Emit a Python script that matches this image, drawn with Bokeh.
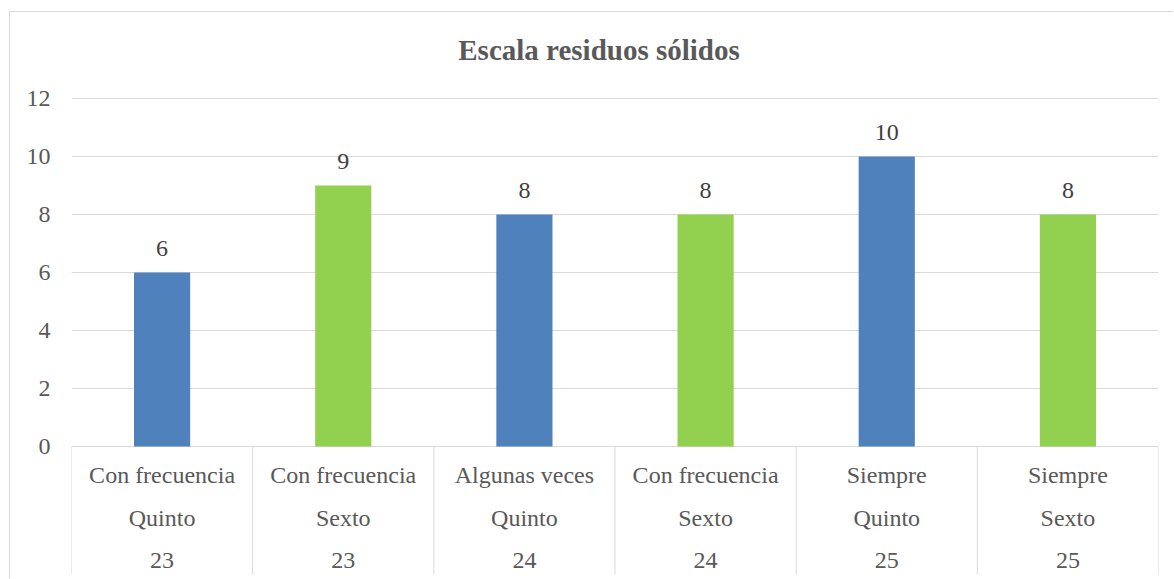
from bokeh.plotting import figure
from bokeh.models import Range1d, FixedTicker, ColumnDataSource
from bokeh.core.properties import value
from bokeh.embed import file_html
from bokeh.resources import INLINE

# ---- data ----
respuesta = ["Con frecuencia", "Con frecuencia", "Algunas veces", "Con frecuencia", "Siempre", "Siempre"]
grado = ["Quinto", "Sexto", "Quinto", "Sexto", "Quinto", "Sexto"]
item = ["23", "23", "24", "24", "25", "25"]
valores = [6, 9, 8, 8, 10, 8]
y_ticks = [0, 2, 4, 6, 8, 10, 12]
titulo = "Escala residuos sólidos"

# ---- styles ----
palette = {"Quinto": "#4F81BD", "Sexto": "#92D050"}
FONT = value("Liberation Serif")
TXT = "#595959"
GRID = "#d9d9d9"

n = len(valores)
xs = [i + 0.5 for i in range(n)]
src = ColumnDataSource(dict(
    x=xs, top=valores, lab=[str(v) for v in valores],
    r1=respuesta, r2=grado, r3=item,
    color=[palette[g] for g in grado],
))

W, H = 1164, 567
px_per_unit = 29.0
top_px = 86      # frame top above the 12 line
zero_px = 434    # canvas y of value 0
y_end = y_ticks[-1] + top_px / px_per_unit
y_start = -(H - zero_px) / px_per_unit
sep_bottom = y_start + 5 / px_per_unit

p = figure(width=W, height=H, output_backend="svg", toolbar_location=None,
           x_range=Range1d(0, n), y_range=Range1d(y_start, y_end),
           min_border_left=61, min_border_right=16, min_border_top=0, min_border_bottom=0)
p.styles = {"border-top": f"1px solid {GRID}", "border-left": f"1px solid {GRID}",
            "margin-top": "11px", "margin-left": "9px"}
p.outline_line_color = None
p.background_fill_color = "white"
p.border_fill_color = "white"
p.xaxis.visible = False
p.xgrid.visible = False

yax = p.yaxis[0]
yax.ticker = FixedTicker(ticks=y_ticks)
yax.axis_line_color = None
yax.major_tick_line_color = None
yax.minor_tick_line_color = None
yax.major_tick_out = 0
yax.major_tick_in = 0
yax.major_label_standoff = 21
yax.major_label_text_font = "Liberation Serif"
yax.major_label_text_font_size = "24px"
yax.major_label_text_color = TXT

p.ygrid.ticker = FixedTicker(ticks=y_ticks)
p.ygrid.grid_line_color = GRID
p.ygrid.grid_line_width = 1

# bars
p.vbar(x="x", top="top", bottom=0, width=0.31, fill_color="color", line_color=None, source=src)

# data labels
p.text(x="x", y="top", text="lab", y_offset=-24, text_align="center", text_baseline="middle",
       text_font=FONT, text_font_size="24px", text_color="#404040", source=src)

# category separators
sep_x = list(range(n + 1))
p.segment(x0=sep_x, y0=[0] * (n + 1), x1=sep_x, y1=[sep_bottom] * (n + 1),
          line_color=GRID, line_width=1)

# category labels (3 rows)
for col, off in (("r1", 28), ("r2", 71), ("r3", 114)):
    p.text(x="x", y=0, text=col, y_offset=off, text_align="center", text_baseline="middle",
           text_font=FONT, text_font_size="24px", text_color=TXT, source=src)

# title
p.text(x=[n / 2], y=[y_end], text=[titulo], y_offset=37, x_offset=-16,
       text_align="center", text_baseline="middle", text_font=FONT,
       text_font_style="bold", text_font_size="29px", text_color=TXT)

open("out.html", "w").write(file_html(p, INLINE))
